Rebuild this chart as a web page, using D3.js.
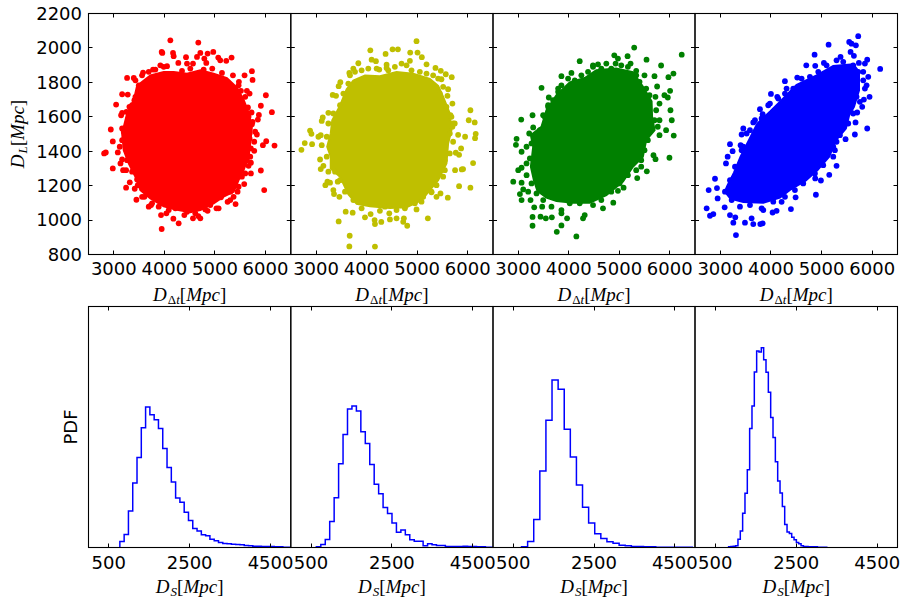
<!DOCTYPE html>
<html><head><meta charset="utf-8">
<script src="https://cdn.jsdelivr.net/npm/d3@7/dist/d3.min.js"></script>
<style>html,body{margin:0;padding:0;background:#fff}svg{display:block}</style></head>
<body><div id="chart"></div>
<script>
// Scatter samples: [D_dt, D_L]. The solid interior of each cloud
// cannot be resolved into single points, so it is kept as its outline in data units.
const redPoints=[[4118,2044],[4671,2031],[3947,1977],[3960,1971],[4171,1971],[4184,1952],[4428,1946],[4276,1913],[4448,1909],[4566,1909],[4645,1948],[4711,1971],[4790,1938],[4855,1967],[4829,1913],[4967,1977],[5066,1944],[5105,1928],[5224,1925],[5329,1944],[4947,1880],[5356,1841],[5731,1865],[5744,1814],[5586,1841],[5474,1803],[6007,1725],[6126,1627],[5908,1664],[5652,1654],[5724,1625],[5869,1611],[5849,1584],[5744,1571],[5796,1513],[5829,1497],[5685,1474],[5777,1455],[6014,1458],[5948,1435],[6178,1433],[5777,1402],[5698,1368],[5665,1315],[5711,1271],[5908,1288],[5974,1174],[5579,1209],[5448,1165],[5303,1165],[5408,1093],[5250,1106],[5073,1068],[5030,1068],[4855,1054],[4711,1010],[4671,1023],[4566,1010],[4395,1029],[4283,981],[3947,948],[4178,1008],[3934,1029],[4040,1039],[3691,1078],[3737,1087],[3447,1118],[3605,1135],[3414,1182],[3243,1188],[3316,1219],[3461,1236],[3184,1290],[3243,1290],[2980,1300],[3132,1329],[3079,1393],[2980,1457],[2941,1526],[2809,1387],[2842,1393],[3165,1464],[3165,1532],[3145,1609],[3165,1623],[3046,1671],[3309,1658],[3165,1731],[3276,1729],[3408,1696],[3263,1826],[3395,1826],[3579,1857],[3776,1874],[3921,1899],[4053,1894],
[3428,1812],[3494,1783],[3559,1841],[3691,1861],[3822,1874],[3987,1890],[4349,1867],[4513,1880],[4777,1874],[5139,1855],[5303,1783],[5468,1783],[5514,1751],[5632,1751],[5599,1716],[5685,1735],[5566,1658],[5665,1600],[5731,1557],[5685,1503],[5711,1416],[5632,1348],[5711,1333],[5599,1271],[5533,1252],[5468,1194],[5369,1135],[5303,1116],[5119,1132],[4908,1087],[4810,1062],[4612,1039],[4448,1048],[4217,1068],[4086,1058],[3888,1078],[3757,1097],[3559,1135],[3474,1203],[3362,1281],[3263,1348],[3165,1352],[3118,1426],[3230,1484],[3197,1513],[3296,1580],[3250,1629],[3362,1667],[3428,1716]];
const redCore=[[4184,1860],[4448,1850],[4711,1870],[4974,1850],[5237,1825],[5435,1770],[5566,1700],[5665,1625],[5731,1542],[5698,1445],[5665,1368],[5566,1290],[5468,1232],[5369,1165],[5171,1136],[4974,1097],[4711,1058],[4513,1045],[4250,1060],[3987,1080],[3724,1125],[3526,1174],[3428,1252],[3296,1329],[3197,1406],[3165,1503],[3263,1619],[3395,1696],[3461,1780],[3724,1840],[3987,1860]];
const yellowPoints=[[4987,2039],[4073,1986],[4513,1992],[4619,1992],[4375,1965],[4862,1973],[5007,1973],[5092,1946],[4856,1925],[5185,1905],[4099,1932],[4184,1923],[3836,1911],[4395,1903],[4395,1884],[3737,1880],[3658,1855],[4250,1874],[5362,1884],[5467,1867],[5566,1847],[5684,1830],[5480,1818],[5612,1760],[5599,1722],[5697,1677],[5658,1609],[5743,1561],[5697,1542],[5810,1495],[5948,1484],[6053,1638],[6020,1580],[6138,1567],[6158,1501],[6145,1476],[5869,1416],[5829,1379],[5764,1391],[6106,1331],[5908,1296],[5882,1294],[5750,1290],[5829,1197],[6053,1188],[5606,1130],[5461,1155],[5382,1135],[5283,1161],[5086,1107],[5211,1010],[4987,1062],[4803,967],[4737,1010],[4724,990],[4592,1010],[4461,1004],[4290,989],[4158,1000],[4165,977],[3967,1016],[4079,1035],[4263,1054],[4448,1039],[3724,1043],[3586,1049],[3447,992],[3665,909],[3658,847],[4165,846],[3461,1135],[3355,1151],[3342,1174],[3184,1203],[3224,1223],[3276,1217],[3428,1223],[3092,1296],[3145,1315],[3079,1352],[2710,1408],[2776,1447],[2921,1441],[3046,1484],[3092,1493],[2881,1520],[2908,1501],[3112,1576],[3132,1596],[3243,1623],[3329,1727],[3395,1722],[3447,1778],[3480,1801],
[3671,1841],[3770,1861],[3901,1870],[4033,1880],[4198,1880],[4428,1870],[4559,1890],[4691,1909],[4790,1899],[4888,1870],[5053,1861],[5185,1851],[5316,1841],[5415,1822],[5514,1774],[5448,1735],[5579,1658],[5678,1600],[5711,1561],[5645,1503],[5711,1455],[5645,1387],[5547,1348],[5547,1290],[5514,1252],[5382,1203],[5283,1165],[5119,1135],[4954,1097],[4757,1068],[4592,1058],[4362,1078],[4198,1097],[3901,1068],[3737,1116],[3572,1165],[3474,1232],[3375,1281],[3243,1281],[3211,1368],[3112,1435],[3211,1484],[3243,1561],[3342,1619],[3474,1667],[3540,1735],[3638,1793]];
const yellowCore=[[3967,1840],[4263,1835],[4592,1860],[4921,1850],[5250,1820],[5415,1780],[5514,1716],[5645,1619],[5678,1522],[5612,1445],[5579,1329],[5415,1232],[5250,1174],[5086,1116],[4790,1075],[4461,1070],[4066,1080],[3803,1095],[3638,1150],[3474,1252],[3290,1300],[3290,1368],[3220,1426],[3290,1503],[3320,1580],[3474,1665],[3605,1760],[3737,1810]];
const greenPoints=[[5296,2002],[6237,1961],[4902,1957],[5165,1952],[5540,1932],[5829,1898],[4974,1938],[4928,1909],[4744,1909],[4217,1923],[4579,1905],[4480,1899],[5224,1909],[4053,1855],[3855,1836],[3461,1768],[3605,1712],[3790,1764],[5336,1867],[5500,1841],[5698,1836],[6073,1851],[5974,1830],[5750,1776],[6007,1751],[5895,1725],[5961,1712],[5717,1716],[5797,1677],[6014,1638],[6040,1580],[5797,1580],[5928,1522],[6079,1491],[5797,1493],[5763,1542],[5994,1362],[5678,1377],[5718,1354],[5546,1283],[5356,1244],[5435,1310],[5086,1188],[4974,1170],[4882,1101],[4678,1068],[4316,1029],[4283,1010],[4151,905],[3967,1010],[3855,969],[3763,932],[3855,1039],[3665,1016],[3441,1020],[3546,1010],[3283,1018],[3283,967],[3316,1074],[3474,1078],[3243,1116],[3066,1116],[3033,1151],[3197,1165],[3099,1178],[2901,1223],[3066,1217],[3000,1290],[3066,1304],[3164,1329],[3066,1397],[2954,1437],[2967,1472],[3164,1426],[3217,1503],[3296,1538],[3059,1584],[3283,1609],[3493,1609],[3592,1667],
[3855,1783],[3987,1822],[4119,1812],[4250,1841],[4382,1861],[4481,1890],[4645,1880],[4842,1880],[5040,1899],[5171,1890],[5336,1841],[5402,1803],[5533,1764],[5599,1725],[5731,1638],[5698,1580],[5599,1513],[5566,1464],[5500,1406],[5435,1348],[5336,1290],[5171,1261],[5007,1213],[4842,1165],[4645,1116],[4481,1087],[4217,1097],[4020,1097],[3855,1058],[3658,1078],[3494,1116],[3362,1155],[3263,1213],[3165,1261],[3230,1358],[3263,1445],[3329,1484],[3428,1522],[3526,1600],[3592,1658],[3691,1696],[3790,1745]];
const greenCore=[[4316,1825],[4546,1870],[4941,1880],[5270,1860],[5467,1775],[5640,1690],[5650,1600],[5700,1522],[5533,1464],[5467,1368],[5270,1310],[5073,1223],[4744,1145],[4415,1100],[4086,1100],[3757,1110],[3559,1130],[3380,1170],[3310,1232],[3250,1310],[3296,1426],[3250,1493],[3460,1542],[3559,1638],[3757,1725],[4020,1800]];
const bluePoints=[[5724,2068],[5139,2019],[5546,2035],[5592,2025],[5678,2015],[5573,1977],[5639,1954],[4862,1961],[5375,1948],[5296,1928],[4698,1899],[4875,1896],[5046,1913],[5902,1932],[5856,1909],[5737,1913],[6158,1878],[5922,1832],[5724,1861],[5889,1783],[5948,1716],[5836,1700],[5803,1658],[5704,1625],[5671,1567],[5902,1532],[5658,1497],[5474,1470],[5296,1455],[5263,1406],[5296,1315],[5152,1263],[4987,1230],[4875,1242],[4888,1147],[4487,1132],[4395,1064],[4211,1106],[4112,1054],[4033,1044],[3836,981],[3790,977],[3849,1058],[3618,1010],[3651,977],[3487,985],[3309,913],[3257,985],[3296,1016],[3191,1029],[3086,1074],[2730,1068],[2796,1025],[2862,1035],[2947,1126],[2770,1174],[2934,1186],[2895,1240],[3112,1329],[3145,1368],[3243,1400],[3191,1441],[3401,1435],[3421,1497],[3454,1532],[3520,1503],[3651,1567],[3783,1644],[3836,1615],[3947,1667],[4000,1733],[4125,1716],[4276,1807],[4309,1764],[4520,1828],
[3454,1426],[3586,1522],[3684,1580],[3816,1590],[3980,1677],[4145,1706],[4277,1735],[4441,1764],[4606,1822],[4770,1832],[4935,1861],[5099,1899],[5231,1880],[5428,1919],[5625,1899],[5823,1861],[5823,1812],[5856,1764],[5691,1716],[5757,1687],[5625,1619],[5527,1561],[5362,1493],[5231,1426],[5231,1368],[5033,1319],[4869,1271],[4638,1213],[4474,1174],[4277,1135],[4046,1107],[3816,1068],[3586,1087],[3388,1078],[3224,1116],[3092,1165],[3191,1232],[3290,1310],[3421,1406]];
const blueCore=[[4507,1785],[4902,1840],[5231,1895],[5625,1905],[5740,1861],[5740,1754],[5640,1658],[5545,1609],[5480,1532],[5285,1464],[5150,1368],[4920,1290],[4690,1230],[4375,1175],[4178,1130],[3849,1100],[3454,1105],[3200,1125],[3090,1165],[3140,1200],[3270,1275],[3400,1368],[3565,1464],[3730,1561],[3990,1632],[4190,1690]];

// Histograms of D_S: first bin edge, bin width and bar heights (arbitrary PDF units).
const histStart=[775,632,706,830];
const histWidth=[106,110,151,57.7];
const hist1=[18,39,110,194,271,360,423,399,384,358,298,241,197,149,136,106,81,57,50,38,35,25,20,15,12,11,10,9,8,6,5,4,4,3,3,3,2,2,1,1];
const hist2=[2,9,24,78,150,252,340,417,426,411,348,313,250,190,162,120,102,74,46,53,38,23,19,19,5,11,8,6,6,3,3,3,3,4,3,3,2,2,1,1];
const hist3=[2,18,84,230,383,504,476,356,272,188,121,74,41,27,17,13,7,5,3,3,2,2,1,1,1,1,1,1];
const hist4=[2,3,4,5,25,50,103,163,234,358,426,528,591,588,601,565,527,467,391,331,258,200,164,123,69,47,42,31,23,15,11,5,3,3,2,2,2,2,1,1,1,1];

const scatterX=[3000,4000,5000,6000];
const scatterY=[800,1000,1200,1400,1600,1800,2000,2200];
const histX=[500,2500,4500];
const colors=["#ff0000","#bfbf00","#008000","#0000ff"];
const scatters=[[redPoints,redCore],[yellowPoints,yellowCore],[greenPoints,greenCore],[bluePoints,blueCore]];
const hists=[hist1,hist2,hist3,hist4];

const W=901,H=601;
const edges=[88.5,290.8,493,695,897.5];
const top1=13.5,bot1=254.5,top2=306.5,bot2=547.5;
const svg=d3.select("#chart").append("svg").attr("width",W).attr("height",H).attr("viewBox",[0,0,W,H]);
const sans="'DejaVu Sans',sans-serif", serif="'Liberation Serif',serif";
const TICK=4;

svg.append("defs").selectAll("clipPath").data(d3.range(8)).join("clipPath").attr("id",d=>"c"+d)
 .append("rect").attr("x",d=>edges[d%4]).attr("width",d=>edges[d%4+1]-edges[d%4])
 .attr("y",d=>d<4?top1:top2).attr("height",bot1-top1);

function frame(g,x,y,xt,yt){
  const [x0,x1]=x.range(),[y1,y0]=y.range();
  const tg=g.append("g").attr("stroke","#000").attr("stroke-width",1).attr("fill","none");
  xt.forEach(v=>{const p=Math.round(x(v)-.5)+.5;
    tg.append("line").attr("x1",p).attr("x2",p).attr("y1",y1).attr("y2",y1-TICK);
    tg.append("line").attr("x1",p).attr("x2",p).attr("y1",y0).attr("y2",y0+TICK);});
  yt.forEach(v=>{const p=Math.round(y(v)-.5)+.5;
    tg.append("line").attr("x1",x0).attr("x2",x0+TICK).attr("y1",p).attr("y2",p);
    tg.append("line").attr("x1",x1).attr("x2",x1-TICK).attr("y1",p).attr("y2",p);});
  g.append("rect").attr("x",x0).attr("y",y0).attr("width",x1-x0).attr("height",y1-y0)
   .attr("fill","none").attr("stroke","#000").attr("stroke-width",1.1);
}
function tickLabels(g,x,y0,vals){
  g.selectAll(null).data(vals).join("text").attr("x",d=>x(d)).attr("y",y0)
   .attr("text-anchor","middle").attr("font-family",sans).attr("font-size",18).attr("fill","#000").text(d=>d);
}
function mathLabel(g,x,y,name,sub,rot){
  const t=g.append("text").attr("font-family",serif).attr("font-size",19).attr("fill","#000").attr("text-anchor","middle")
    .attr("transform",`translate(${x},${y})`+(rot?" rotate(-90)":""));
  t.append("tspan").attr("font-style","italic").text(name);
  const s=t.append("tspan").attr("font-size",13).attr("dy",3).attr("dx",1);
  if(sub==="Δt"){ s.text("Δ"); t.append("tspan").attr("font-size",13).attr("font-style","italic").text("t"); }
  else s.attr("font-style","italic").text(sub);
  t.append("tspan").attr("dy",-3).text("[");
  t.append("tspan").attr("font-style","italic").text("Mpc");
  t.append("tspan").text("]");
}

scatters.forEach(([pts,core],i)=>{
  const x=d3.scaleLinear().domain([2500,6500]).range([edges[i],edges[i+1]]);
  const y=d3.scaleLinear().domain([800,2200]).range([bot1,top1]);
  const g=svg.append("g");
  const pg=g.append("g").attr("clip-path",`url(#c${i})`);
  pg.append("path").datum(core).attr("fill",colors[i]).attr("stroke",colors[i]).attr("stroke-width",2)
    .attr("d",d3.line().x(d=>x(d[0])).y(d=>y(d[1])).curve(d3.curveLinearClosed));
  pg.selectAll("circle").data(pts).join("circle").attr("cx",d=>x(d[0])).attr("cy",d=>y(d[1])).attr("r",2.9).attr("fill",colors[i]);
  frame(g,x,y,scatterX,scatterY);
  tickLabels(g,x,274.5,scatterX);
  mathLabel(g,(edges[i]+edges[i+1])/2,300.5,"D","Δt",false);
  if(i===0){
    g.selectAll(null).data(scatterY).join("text").attr("x",82).attr("y",d=>y(d)+6.3)
     .attr("text-anchor","end").attr("font-family",sans).attr("font-size",18).attr("fill","#000").text(d=>d);
    mathLabel(g,24,134,"D","L",true);
  }
});

hists.forEach((vals,i)=>{
  const x=d3.scaleLinear().domain([0,5000]).range([edges[i],edges[i+1]]);
  const y=d3.scaleLinear().domain([0,725]).range([bot2,top2]);
  const g=svg.append("g");
  const pts=[[histStart[i],0]];
  vals.forEach((v,k)=>{pts.push([histStart[i]+k*histWidth[i],v]);pts.push([histStart[i]+(k+1)*histWidth[i],v]);});
  pts.push([histStart[i]+vals.length*histWidth[i],0]);
  g.append("path").datum(pts).attr("clip-path",`url(#c${i+4})`).attr("fill","none").attr("stroke","#0000ff").attr("stroke-width",1.5)
   .attr("d",d3.line().x(d=>x(d[0])).y(d=>y(d[1])));
  frame(g,x,y,histX,[]);
  tickLabels(g,x,568.5,histX);
  mathLabel(g,(edges[i]+edges[i+1])/2,593,"D","S",false);
});
svg.append("text").attr("transform","translate(77,427) rotate(-90)").attr("text-anchor","middle")
  .attr("font-family",sans).attr("font-size",18).attr("fill","#000").text("PDF");
</script></body></html>
